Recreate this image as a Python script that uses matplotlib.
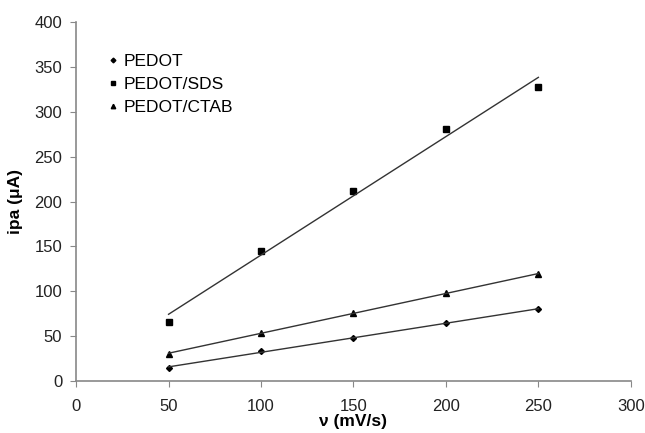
import numpy as np
import matplotlib.pyplot as plt

plt.rcParams['font.family'] = ['Liberation Sans', 'DejaVu Sans']

scan_rate = np.array([50, 100, 150, 200, 250])
ipa_pedot = np.array([15, 33, 48, 65, 80])
ipa_sds = np.array([66, 145, 212, 281, 328])
ipa_ctab = np.array([30, 54, 76, 98, 119])

series = [
    ('PEDOT', ipa_pedot, 'D', 3.0),
    ('PEDOT/SDS', ipa_sds, 's', 4.0),
    ('PEDOT/CTAB', ipa_ctab, '^', 4.0),
]

fig = plt.figure(figsize=(6.45, 4.33), dpi=100)
ax = fig.add_axes([0.118, 0.12, 0.86, 0.829])

for name, y, mk, ms in series:
    ax.plot(scan_rate, y, linestyle='none', marker=mk, markersize=ms,
            color='black', label=name)
    # linear trend line
    k, b = np.polyfit(scan_rate, y, 1)
    ax.plot(scan_rate[[0, -1]], k * scan_rate[[0, -1]] + b,
            color='#333333', linewidth=1.0)

ax.set_xlim(0, 300)
ax.set_ylim(0, 400)
ax.set_xticks(range(0, 301, 50))
ax.set_yticks(range(0, 401, 50))
ax.tick_params(labelsize=12, length=4, color='#888888', colors='#222222')
ax.tick_params(axis='x', pad=9)
ax.tick_params(axis='y', pad=6)
for s in ['top', 'right']:
    ax.spines[s].set_visible(False)
for s in ['left', 'bottom']:
    ax.spines[s].set_color('#888888')
    ax.spines[s].set_linewidth(1.2)

ax.set_xlabel('ν (mV/s)', fontsize=12.5, fontweight='bold', labelpad=0)
ax.set_ylabel('ipa (μA)', fontsize=12.5, fontweight='bold', labelpad=8)

leg = ax.legend(loc='upper left', bbox_to_anchor=(0.045, 0.93), frameon=False,
                fontsize=12.5, handlelength=0.6, handletextpad=0.3,
                labelspacing=0.45, borderaxespad=0, markerscale=0.8)

plt.savefig('out.png', dpi=100)
plt.close()
